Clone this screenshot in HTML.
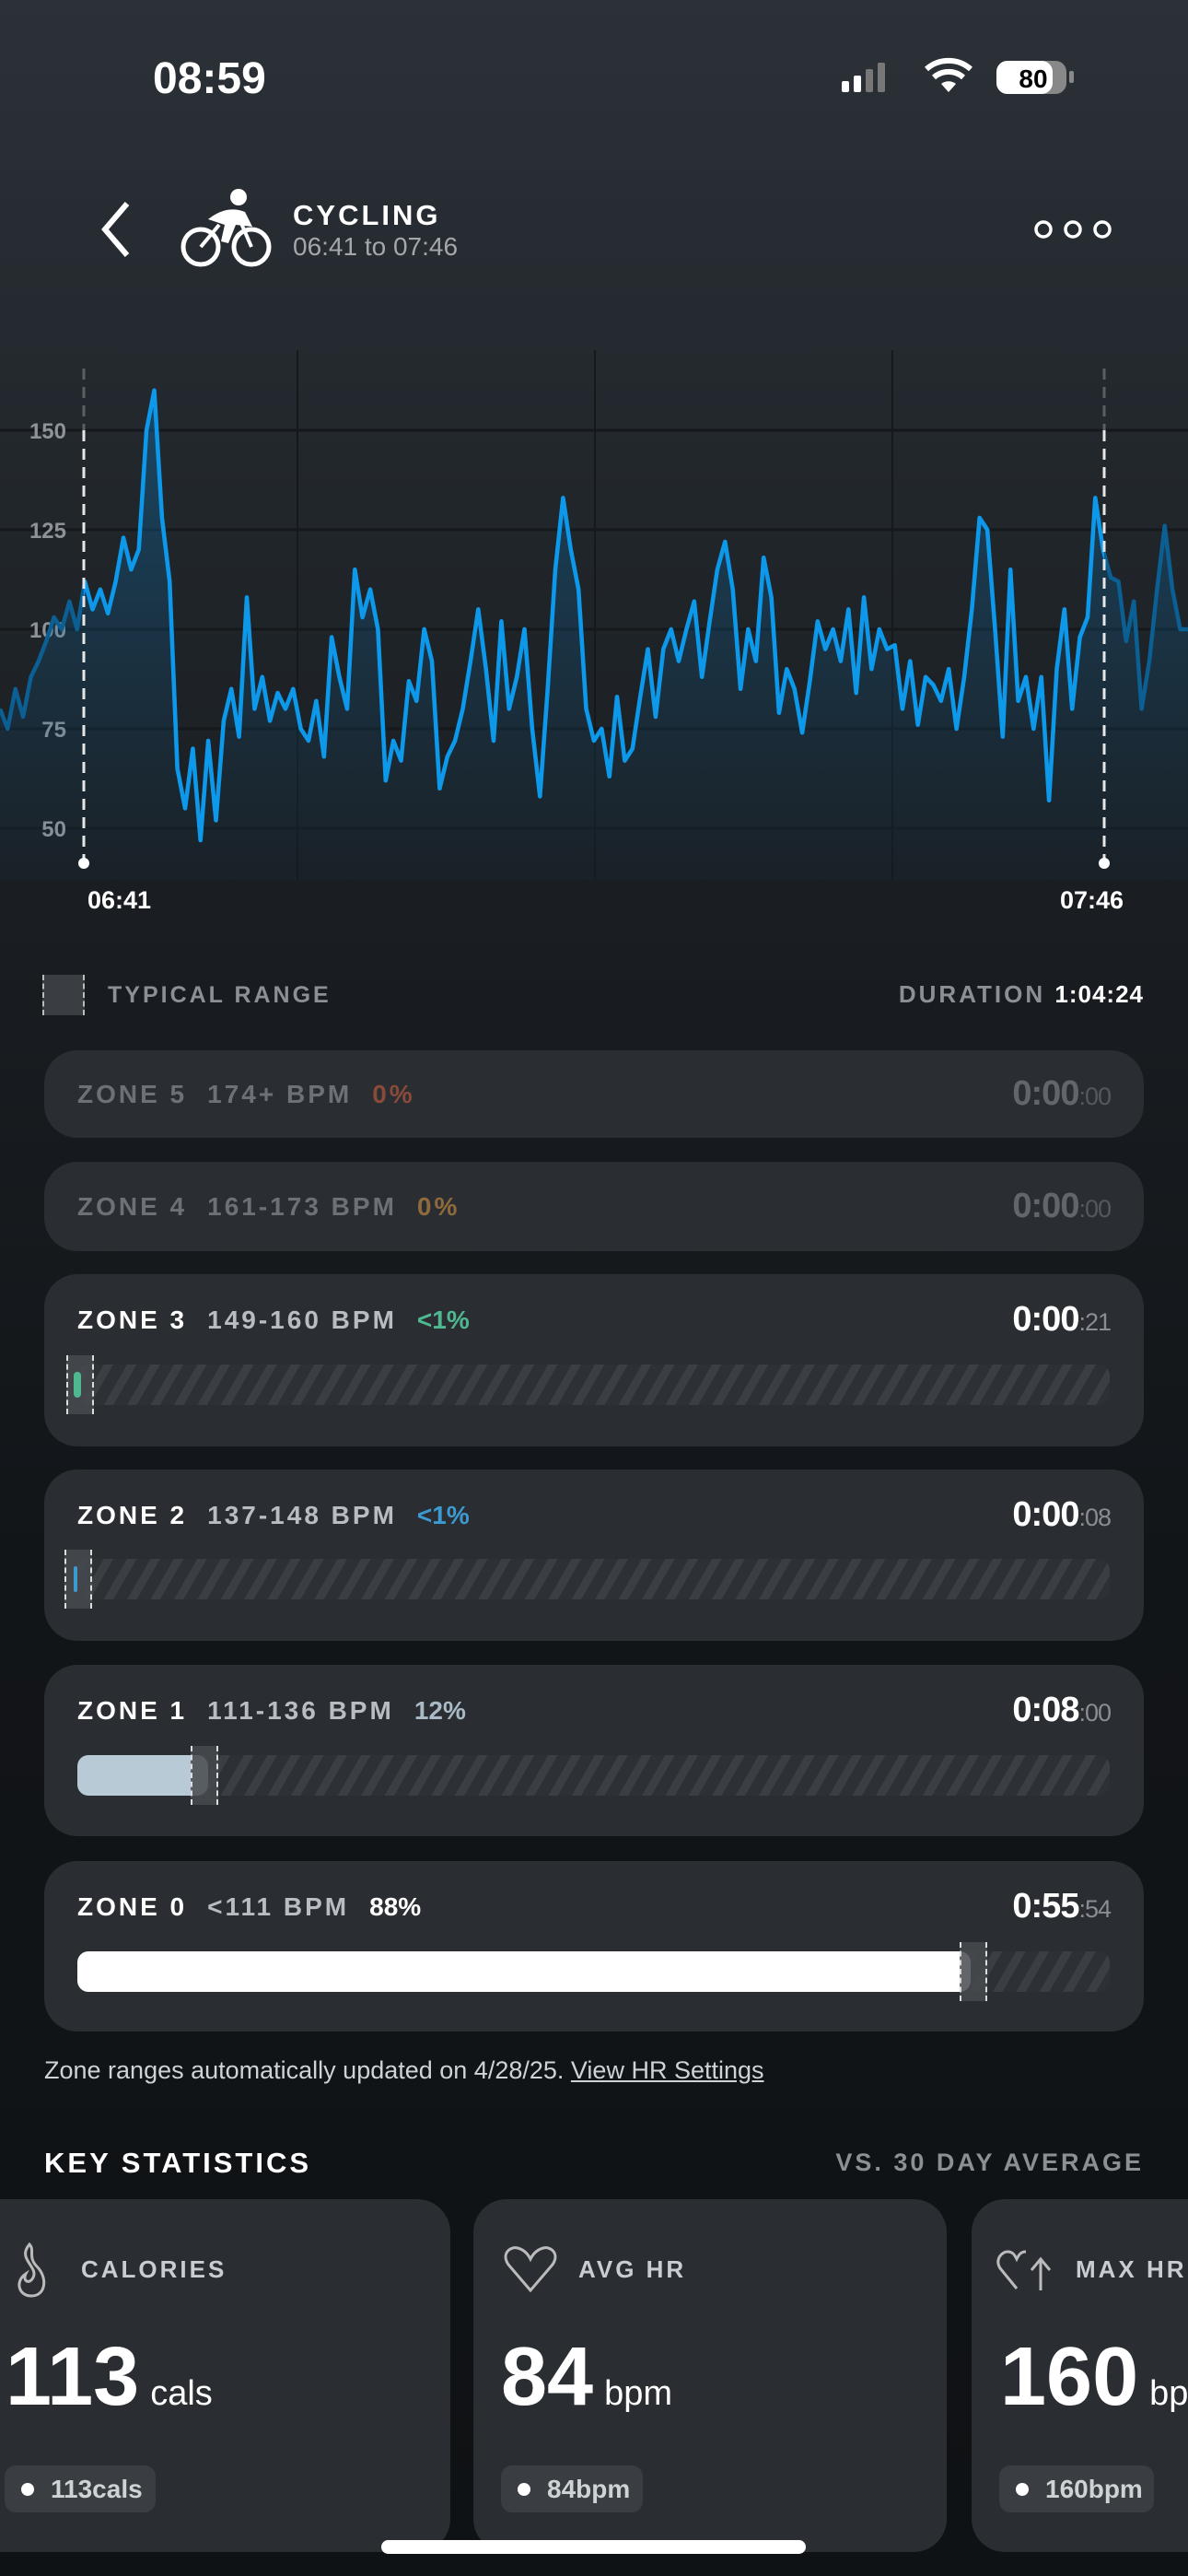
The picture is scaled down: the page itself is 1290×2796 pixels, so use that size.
<!DOCTYPE html>
<html><head><meta charset="utf-8">
<style>
*{margin:0;padding:0;box-sizing:border-box}
html,body{width:1290px;height:2796px;overflow:hidden}
body{background:linear-gradient(#2b3137 0px,#20252a 600px,#181c20 1100px,#121518 1700px,#0f1214 2796px);font-family:"Liberation Sans",sans-serif;color:#fff;position:relative}
.abs{position:absolute}
.card{position:absolute;left:48px;width:1194px;background:#2a2d31;border-radius:36px}
.zt{position:absolute;left:36px;font-weight:bold;font-size:28px;letter-spacing:3px;white-space:nowrap}
.zt span{margin-right:22px}
.time{position:absolute;right:36px;font-weight:bold;font-size:38px;letter-spacing:-1px}
.time small{font-size:27px;color:#8a8e93;font-weight:normal}
.bar{position:absolute;left:36px;width:1121px;height:44px;border-radius:12px;background:repeating-linear-gradient(-60deg,#2d3034 0 13px,#3b3e42 13px 22px)}
.fill{position:absolute;left:0;top:0;height:44px;border-radius:12px}
.mk{position:absolute;width:30px;height:64px;top:-10px;background:rgba(70,74,79,.85);border-left:2px dashed #ddd;border-right:2px dashed #ddd}
#stats{position:absolute;left:0;top:0;width:1290px;height:2796px;overflow:hidden}
.scard{position:absolute;top:2387px;height:383px;background:#2a2d31;border-radius:36px}
.slab{position:absolute;top:2448px;font-weight:bold;font-size:26px;letter-spacing:3px;color:#c9ccd0}
.big{position:absolute;top:2535px;font-weight:bold;font-size:90px;line-height:90px;white-space:nowrap}
.big small{font-size:38px;font-weight:normal;margin-left:12px}
.pill{position:absolute;top:2676px;height:51px;background:#3a3d41;border-radius:12px;font-size:28px;font-weight:bold;color:#d0d3d6;line-height:51px;padding-left:50px;padding-right:16px}
.pill::before{content:"";position:absolute;left:18px;top:19px;width:14px;height:14px;border-radius:50%;background:#fff}
</style></head><body>
<div class="abs" style="left:166px;top:58px;font-size:48px;font-weight:bold">08:59</div>
<svg class="abs" style="left:910px;top:62px" width="270" height="50">
<rect x="4" y="26" width="8" height="12" rx="2" fill="#fff"/><rect x="17" y="20" width="8" height="18" rx="2" fill="#fff"/><rect x="30" y="13" width="8" height="25" rx="2" fill="#777"/><rect x="43" y="6" width="8" height="32" rx="2" fill="#777"/>
<path d="M120 38 l-8 -9 a13 13 0 0 1 16 0z M120 38" fill="#fff"/><path d="M104 22 a24 24 0 0 1 32 0" stroke="#fff" stroke-width="6" fill="none"/><path d="M96 13 a36 36 0 0 1 48 0" stroke="#fff" stroke-width="6" fill="none"/>
<rect x="172" y="4" width="76" height="36" rx="12" fill="#888"/><rect x="172" y="4" width="61" height="36" rx="12" fill="#fff"/><rect x="251" y="15" width="5" height="13" rx="2" fill="#888"/>
<text x="212" y="33" font-size="28" font-weight="bold" text-anchor="middle" fill="#000" font-family="Liberation Sans">80</text></svg>
<svg class="abs" style="left:100px;top:215px" width="50" height="70"><path d="M38 6 L14 34 L38 62" stroke="#fff" stroke-width="6" fill="none"/></svg>
<svg class="abs" style="left:196px;top:200px" width="100" height="92">
<circle cx="22" cy="68" r="19" stroke="#fff" stroke-width="5" fill="none"/><circle cx="77" cy="68" r="19" stroke="#fff" stroke-width="5" fill="none"/>
<circle cx="63" cy="14" r="9" fill="#fff"/><path d="M30 38 Q50 22 70 30 L78 46 L60 44 L52 64 L44 62 L48 44 Z" fill="#fff"/><path d="M22 68 L42 44 M77 68 L65 40" stroke="#fff" stroke-width="4"/></svg>
<div class="abs" style="left:318px;top:216px;font-size:31px;font-weight:bold;letter-spacing:3px">CYCLING</div>
<div class="abs" style="left:318px;top:252px;font-size:28px;color:#a4a8ad">06:41 to 07:46</div>
<svg class="abs" style="left:1120px;top:236px" width="90" height="26"><circle cx="13" cy="13" r="8" stroke="#fff" stroke-width="3.5" fill="none"/><circle cx="45" cy="13" r="8" stroke="#fff" stroke-width="3.5" fill="none"/><circle cx="77" cy="13" r="8" stroke="#fff" stroke-width="3.5" fill="none"/></svg>

<svg id="chart" class="abs" style="left:0;top:0" width="1290" height="1010"></svg>

<div class="abs" style="left:46px;top:1058px;width:46px;height:44px;background:#3a3e42;border-left:2px dashed #bbb;border-right:2px dashed #bbb"></div>
<div class="abs" style="left:117px;top:1066px;font-size:25px;font-weight:bold;letter-spacing:3px;color:#8b9095">TYPICAL RANGE</div>
<div class="abs" style="right:48px;top:1064px;font-size:26px;font-weight:bold;letter-spacing:3px;color:#8b9095">DURATION <span style="color:#fff;letter-spacing:1px">1:04:24</span></div>

<div class="card" style="top:1140px;height:95px;background:#2a2e32">
<div class="zt" style="top:32px;color:#6d7176"><span>ZONE 5</span><span>174+ BPM</span><span style="color:#8a4a3a">0%</span></div>
<div class="time" style="top:26px;color:#62666b">0:00<small style="color:#55595d">:00</small></div></div>
<div class="card" style="top:1261px;height:97px;background:#2a2e32">
<div class="zt" style="top:33px;color:#6d7176"><span>ZONE 4</span><span>161-173 BPM</span><span style="color:#8e6a3c">0%</span></div>
<div class="time" style="top:27px;color:#62666b">0:00<small style="color:#55595d">:00</small></div></div>

<div class="card" style="top:1383px;height:187px">
<div class="zt" style="top:34px"><span>ZONE 3</span><span style="color:#b9bdc1">149-160 BPM</span><span style="color:#4fb890;letter-spacing:0">&lt;1%</span></div>
<div class="time" style="top:28px">0:00<small>:21</small></div>
<div class="bar" style="top:98px"><div class="mk" style="left:-12px"><div style="position:absolute;left:6px;top:18px;width:8px;height:28px;border-radius:4px;background:#4fb890"></div></div></div></div>

<div class="card" style="top:1595px;height:186px">
<div class="zt" style="top:34px"><span>ZONE 2</span><span style="color:#b9bdc1">137-148 BPM</span><span style="color:#3d9ad0;letter-spacing:0">&lt;1%</span></div>
<div class="time" style="top:28px">0:00<small>:08</small></div>
<div class="bar" style="top:97px"><div class="mk" style="left:-14px"><div style="position:absolute;left:8px;top:18px;width:4px;height:28px;border-radius:2px;background:#3d9ad0"></div></div></div></div>

<div class="card" style="top:1807px;height:186px">
<div class="zt" style="top:34px"><span>ZONE 1</span><span style="color:#b9bdc1">111-136 BPM</span><span style="color:#a9bac6;letter-spacing:0">12%</span></div>
<div class="time" style="top:28px">0:08<small>:00</small></div>
<div class="bar" style="top:98px"><div class="fill" style="width:142px;background:#b8cad6"></div><div class="mk" style="left:123px"></div></div></div>

<div class="card" style="top:2020px;height:185px">
<div class="zt" style="top:34px"><span>ZONE 0</span><span style="color:#b9bdc1">&lt;111 BPM</span><span style="color:#fff;letter-spacing:0">88%</span></div>
<div class="time" style="top:28px">0:55<small>:54</small></div>
<div class="bar" style="top:98px"><div class="fill" style="width:970px;background:#fff"></div><div class="mk" style="left:958px"></div></div></div>

<div class="abs" style="left:48px;top:2232px;font-size:27px;color:#d0d3d6">Zone ranges automatically updated on 4/28/25. <span style="text-decoration:underline">View HR Settings</span></div>

<div class="abs" style="left:48px;top:2330px;font-size:31px;font-weight:bold;letter-spacing:3px">KEY STATISTICS</div>
<div class="abs" style="right:48px;top:2332px;font-size:27px;font-weight:bold;letter-spacing:3px;color:#8b9095">VS. 30 DAY AVERAGE</div>

<div id="stats">
<div class="scard" style="left:-40px;width:529px"></div>
<svg class="abs" style="left:12px;top:2432px" width="44" height="64"><path d="M20 4 C6 20 30 28 24 40 C20 48 12 44 16 36 C4 44 8 60 22 60 C38 60 40 40 28 28 C18 18 26 10 20 4Z" stroke="#bbb" stroke-width="3" fill="none"/></svg>
<div class="slab" style="left:88px">CALORIES</div>
<div class="big" style="left:6px">113<small>cals</small></div>
<div class="pill" style="left:5px;width:164px">113cals</div>

<div class="scard" style="left:514px;width:514px"></div>
<svg class="abs" style="left:544px;top:2436px" width="64" height="54"><path d="M32 50 L8 22 C0 10 10 2 18 4 C26 6 30 12 32 16 C34 12 38 6 46 4 C54 2 64 10 56 22 Z" stroke="#bbb" stroke-width="3" fill="none"/></svg>
<div class="slab" style="left:628px">AVG HR</div>
<div class="big" style="left:544px">84<small>bpm</small></div>
<div class="pill" style="left:544px;width:154px">84bpm</div>

<div class="scard" style="left:1055px;width:300px"></div>
<svg class="abs" style="left:1082px;top:2440px" width="62" height="50"><path d="M22 44 L4 22 C-2 12 6 4 12 4 C18 4 20 8 22 12 C24 8 26 4 32 4" stroke="#bbb" stroke-width="3" fill="none"/><path d="M48 46 V14 M38 24 L48 12 L58 24" stroke="#bbb" stroke-width="3" fill="none"/></svg>
<div class="slab" style="left:1168px">MAX HR</div>
<div class="big" style="left:1086px">160<small>bpm</small></div>
<div class="pill" style="left:1085px;width:168px">160bpm</div>
</div>

<div class="abs" style="left:414px;top:2757px;width:461px;height:15px;border-radius:8px;background:#fff"></div>

<script>
const yTicks=[150,125,100,75,50];
const startMinute=-5.34, endMinute=70.33;
const markerMinutes=[0,65];
const markerLabels=["06:41","07:46"];
const hrValues=[80,75,85,78,88,92,97,103,100,107,100,112,105,110,104,112,123,115,120,150,160,128,112,65,55,70,47,72,52,77,85,73,108,80,88,77,84,80,85,75,72,82,68,98,88,80,115,103,110,100,62,72,67,87,82,100,92,60,68,72,80,92,105,90,72,102,80,88,100,75,58,85,115,133,120,110,80,72,75,63,83,67,70,83,95,78,95,100,92,100,107,88,102,115,122,110,85,100,92,118,108,79,90,85,74,87,102,95,100,92,105,84,108,90,100,95,96,80,92,76,88,86,82,90,75,88,105,128,125,100,73,115,82,88,75,88,57,90,105,80,98,103,133,120,113,112,97,107,80,92,110,126,110,100,100];
const svg=document.getElementById('chart');
const NS='http://www.w3.org/2000/svg';
const xMin=m=>91+(m-0)*(1108/65);
const yV=v=>467+(150-v)*4.32;
function mk(t,a){const e=document.createElementNS(NS,t);for(const k in a)e.setAttribute(k,a[k]);svg.appendChild(e);return e;}
[323,646,969].forEach(x=>{const l=mk('line',{x1:x,x2:x,y1:380,y2:955,stroke:'#15191c','stroke-width':2});

});
yTicks.forEach(v=>{const l=mk('line',{x1:0,x2:1290,y1:yV(v),y2:yV(v),stroke:'#15191c','stroke-width':3});


const t=mk('text',{x:72,y:yV(v)+9,'text-anchor':'end','font-size':24,'font-weight':'bold',fill:'#8e9398','font-family':'Liberation Sans'});t.textContent=v;

});
const defs=mk('defs',{});
defs.innerHTML='<linearGradient id="fg" x1="0" y1="0" x2="0" y2="1"><stop offset="0" stop-color="#0a7cc4" stop-opacity=".38"/><stop offset="1" stop-color="#0a5c90" stop-opacity=".04"/></linearGradient><clipPath id="cp"><rect x="91" y="0" width="1108" height="1000"/></clipPath>';
const n=hrValues.length;
const xs=hrValues.map((v,i)=>xMin(startMinute+(endMinute-startMinute)*i/(n-1)));
let d='';hrValues.forEach((v,i)=>{d+=(i?'L':'M')+xs[i].toFixed(1)+' '+yV(v).toFixed(1);});
const area=mk('path',{d:d+'L'+xs[n-1]+' 955L'+xs[0]+' 955Z',fill:'url(#fg)'});


const dim=mk('path',{d:d,stroke:'#0b5f92','stroke-width':4.5,fill:'none','stroke-linejoin':'round'});


const ln=mk('path',{d:d,stroke:'#0d98ea','stroke-width':4.5,fill:'none','stroke-linejoin':'round','clip-path':'url(#cp)'});


markerMinutes.forEach((m,i)=>{const x=xMin(m);
const lt=mk('line',{x1:x,x2:x,y1:400,y2:yV(150),stroke:'#5a5f64','stroke-width':3,'stroke-dasharray':'12 8'});


const l=mk('line',{x1:x,x2:x,y1:yV(150),y2:935,stroke:'#e6e6e6','stroke-width':3,'stroke-dasharray':'12 8'});


const c=mk('circle',{cx:x,cy:937,r:6,fill:'#fff'});


const t=mk('text',{x:i?x-48:x+4,y:986,'font-size':27,'font-weight':'bold',fill:'#fff','font-family':'Liberation Sans'});t.textContent=markerLabels[i];

});
</script>
</body></html>
